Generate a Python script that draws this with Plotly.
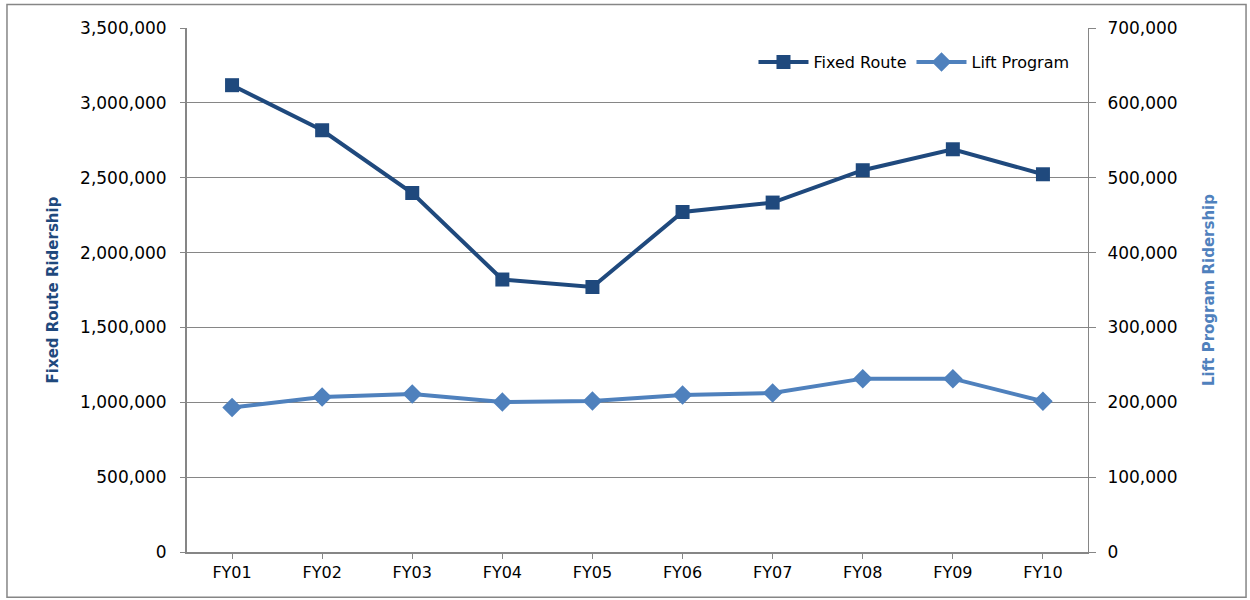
import plotly.graph_objects as go

categories = ["FY01", "FY02", "FY03", "FY04", "FY05", "FY06", "FY07", "FY08", "FY09", "FY10"]
fixed_route = [3118000, 2817000, 2398000, 1820000, 1770000, 2271000, 2334000, 2550000, 2690000, 2523000]
lift_program = [192900, 207000, 211000, 200400, 201700, 209700, 212400, 231600, 231600, 201300]
left_ticks = [0, 500000, 1000000, 1500000, 2000000, 2500000, 3000000, 3500000]
right_ticks = [0, 100000, 200000, 300000, 400000, 500000, 600000, 700000]

DARK = "#1F497D"
LIGHT = "#4F81BD"
GRID = "#868686"
FONT = "'DejaVu Sans', sans-serif"

fig = go.Figure()
fig.add_trace(go.Scatter(
    x=categories, y=fixed_route, name="Fixed Route", mode="lines+markers",
    line=dict(color=DARK, width=4),
    marker=dict(symbol="square", size=14, color=DARK),
    yaxis="y",
))
fig.add_trace(go.Scatter(
    x=categories, y=lift_program, name="Lift Program", mode="lines+markers",
    line=dict(color=LIGHT, width=4),
    marker=dict(symbol="diamond", size=15, color=LIGHT),
    yaxis="y2",
))

fig.update_layout(
    width=1250, height=600,
    margin=dict(l=187, r=162, t=28, b=48),
    paper_bgcolor="white", plot_bgcolor="white",
    font=dict(family=FONT, size=16, color="black"),
    showlegend=True,
    legend=dict(orientation="h", x=0.985, xanchor="right", y=0.935, yanchor="middle",
                font=dict(size=16, color="black"), bgcolor="rgba(0,0,0,0)",
                itemwidth=50, traceorder="normal"),
    xaxis=dict(
        type="category", range=[-0.5, 9.5], showgrid=False, showline=True, linecolor=GRID, linewidth=2,
        ticks="outside", ticklen=5, tickcolor=GRID, tickfont=dict(size=16),
        mirror=False,
    ),
    yaxis=dict(
        range=[0, 3500000], tickvals=left_ticks, tickformat=",d",
        showgrid=True, gridcolor=GRID, gridwidth=1,
        showline=True, linecolor=GRID, linewidth=2,
        ticks="outside", ticklen=5, tickcolor=GRID, tickfont=dict(size=17),
        ticklabelstandoff=10,
        zeroline=False,
        title=dict(text="<b>Fixed Route Ridership</b>", font=dict(size=15, color=DARK), standoff=18),
    ),
    yaxis2=dict(
        range=[0, 700000], tickvals=right_ticks, tickformat=",d",
        overlaying="y", side="right", showgrid=False,
        showline=True, linecolor=GRID, linewidth=1,
        ticks="outside", ticklen=7, tickcolor=GRID, tickfont=dict(size=17),
        ticklabelstandoff=8,
        zeroline=False,
        title=dict(text="<b>Lift Program Ridership</b>", font=dict(size=15, color=LIGHT), standoff=26),
    ),
    shapes=[dict(type="rect", xref="paper", yref="paper",
                 x0=-0.1998, x1=1.1754, y0=-0.0865, y1=1.045,
                 line=dict(color=GRID, width=1.5), fillcolor="rgba(0,0,0,0)", layer="below")],
)

fig.write_html("out.html")
